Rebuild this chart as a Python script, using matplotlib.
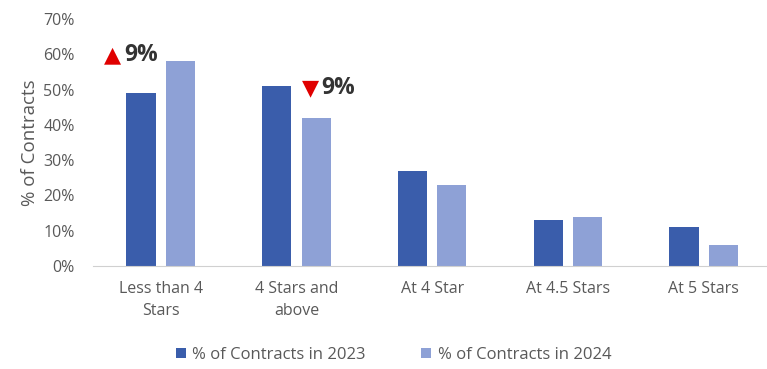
import matplotlib
matplotlib.use("Agg")
import matplotlib.pyplot as plt
import numpy as np

plt.rcParams["font.family"] = ["Open Sans", "DejaVu Sans"]

# ---- data ----------------------------------------------------------------
categories = ["Less than 4\nStars", "4 Stars and\nabove", "At 4 Star",
              "At 4.5 Stars", "At 5 Stars"]
share_2023 = [0.49, 0.51, 0.27, 0.13, 0.11]
share_2024 = [0.58, 0.42, 0.23, 0.14, 0.06]
series_labels = ["% of Contracts in 2023", "% of Contracts in 2024"]
yticks = [0.0, 0.1, 0.2, 0.3, 0.4, 0.5, 0.6, 0.7]

# change callouts: (category index, arrow, text)
callouts = [(0, "▲", "9%"), (1, "▼", "9%")]

C_2023 = "#3A5DAB"
C_2024 = "#8EA1D6"
GREY = "#595959"

fig = plt.figure(figsize=(7.67, 3.69), dpi=100)
ax = fig.add_axes([0.121, 0.279, 0.885, 0.6695])

x = np.arange(len(categories))
w = 0.215
off = 0.145
ax.bar(x - off, share_2023, w, color=C_2023, label=series_labels[0])
ax.bar(x + off, share_2024, w, color=C_2024, label=series_labels[1])

ax.set_xlim(-0.5, len(categories) - 0.5)
ax.set_ylim(0, 0.7)
ax.set_yticks(yticks)
ax.set_yticklabels([f"{t:.0%}" for t in yticks])
ax.set_xticks(x)
ax.set_xticklabels(categories, linespacing=1.45)
ax.tick_params(axis="both", length=0, labelsize=11.5, colors=GREY)
ax.tick_params(axis="x", pad=11)
ax.tick_params(axis="y", pad=13)
ax.set_ylabel("% of Contracts", fontsize=13.5, color=GREY, labelpad=3)

for s in ("top", "right", "left"):
    ax.spines[s].set_visible(False)
ax.spines["bottom"].set_color("#D0D0D0")

# callouts: up-arrow left of the first pair, down-arrow right of the 2023 bar
for i, arrow, txt in callouts:
    if arrow == "▲":
        xp, yp = i - 0.415, max(share_2023[i], share_2024[i]) + 0.018
    else:
        xp, yp = i + 0.04, share_2023[i] - 0.006
    ax.annotate(arrow, (xp, yp), color="#E00000", fontsize=16,
                ha="left", va="center", family="DejaVu Sans")
    ax.annotate(txt, (xp, yp), xytext=(14, 0), textcoords="offset points",
                color="#333333", fontsize=16.5, fontweight="bold",
                ha="left", va="center")

fig.legend(loc="center", bbox_to_anchor=(0.513, 0.038), ncol=2, frameon=False,
           fontsize=12, labelcolor=GREY, handlelength=0.6, handleheight=0.6,
           handletextpad=0.4, columnspacing=3.3)

fig.savefig("out.png", dpi=100)
